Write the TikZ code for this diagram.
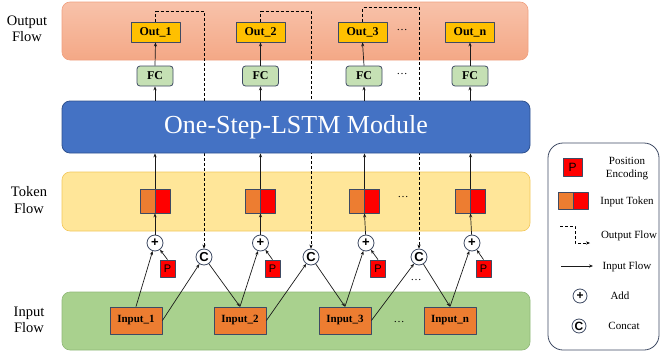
\documentclass[tikz,border=0pt]{standalone}
\usepackage{fontspec}
\setmainfont{Liberation Serif}
\newfontfamily\symfont{Liberation Sans}
\usetikzlibrary{arrows.meta}
\definecolor{boxline}{HTML}{3E4A63}
\definecolor{outyellow}{HTML}{FFC000}
\definecolor{fcgreen}{HTML}{C5E0B4}
\definecolor{inorange}{HTML}{ED7D31}
\definecolor{pred}{HTML}{FF0000}
\definecolor{lstmblue}{HTML}{4472C4}
\definecolor{lstmline}{HTML}{2F528F}
\definecolor{outbandtop}{HTML}{F8C2AA}
\definecolor{outbandbot}{HTML}{F4A886}
\definecolor{outbandline}{HTML}{F0A080}
\definecolor{tokband}{HTML}{FFE699}
\definecolor{tokbandline}{HTML}{F2C75C}
\definecolor{inband}{HTML}{A9D18E}
\definecolor{inbandline}{HTML}{90B878}
\definecolor{arrowgray}{HTML}{1A1A1A}
\begin{document}
\begin{tikzpicture}[x=1pt, y=-1pt, line join=round, >={Stealth[length=4pt,width=3.2pt]},
    band/.style={rounded corners=8pt, line width=0.6pt},
    outbox/.style={draw=boxline, fill=outyellow, line width=0.8pt, minimum width=49pt, minimum height=20pt, inner sep=0pt, font=\fontsize{12}{12}\selectfont\bfseries},
    fcbox/.style={draw=boxline, fill=fcgreen, line width=0.8pt, rounded corners=3pt, minimum width=36pt, minimum height=20pt, inner sep=0pt, font=\fontsize{12}{12}\selectfont\bfseries},
    inbox/.style={draw=boxline, fill=inorange, line width=0.8pt, minimum width=52pt, minimum height=27pt, inner sep=0pt, font=\fontsize{11}{11}\selectfont\bfseries},
    token/.style={draw=boxline, fill=inorange, line width=0.8pt, minimum width=30pt, minimum height=24pt, inner sep=0pt,
        path picture={\fill[pred] (path picture bounding box.north) rectangle (path picture bounding box.south east);
                      \draw[boxline, line width=0.8pt] (path picture bounding box.north) -- (path picture bounding box.south);}},
    pbox/.style={draw=boxline, fill=pred, line width=0.8pt, minimum width=15pt, minimum height=17pt, inner sep=0pt, font=\symfont\fontsize{11}{11}\selectfont},
    opcirc/.style={circle, draw=boxline, fill=white, line width=0.8pt, minimum size=16pt, inner sep=0pt, font=\symfont\fontsize{13}{13}\selectfont\bfseries},
    flowlabel/.style={align=center, font=\fontsize{14.5}{16.5}\selectfont},
    legtext/.style={align=center, font=\fontsize{11}{13}\selectfont},
    dotsnode/.style={font=\fontsize{11}{11}\selectfont},
    flow/.style={->, line width=0.7pt, draw=arrowgray},
    outflow/.style={->, densely dashed, line width=0.6pt}
    ]
    \useasboundingbox (0,0) rectangle (661,356);
    % bands
    \draw[band, draw=outbandline, top color=outbandtop, bottom color=outbandbot] (62,2) rectangle (528,60);
    \draw[band, draw=tokbandline, fill=tokband] (62,172) rectangle (530,231);
    \draw[band, draw=inbandline, fill=inband] (62,292) rectangle (530,350);
    \node[flowlabel] (lbout) at (27,29) {Output\\Flow};
    \node[flowlabel] (lbtok) at (29,200) {Token\\Flow};
    \node[flowlabel] (lbin) at (29,320) {Input\\Flow};
    % concat and output nodes
    \node[opcirc] (c1) at (204,257) {C};
    \node[opcirc] (c2) at (311,257) {C};
    \node[opcirc] (c3) at (419,257) {C};
    \node[outbox] (out1) at (155.5,32) {Out\_1};
    \node[outbox] (out2) at (260.5,32) {Out\_2};
    \node[outbox] (out3) at (362.5,32) {Out\_3};
    \node[outbox] (outn) at (470,32) {Out\_n};
    \node[dotsnode] (dout) at (402,30) {\dots};
    % output flow (behind the module)
    \draw[outflow] (out1.north) -- ++(0,-10) -| (c1.north);
    \draw[outflow] (out2.north) -- ++(0,-10) -| (c2.north);
    \draw[outflow] (out3.north) -- ++(0,-14) -| (c3.north);
    % module
    \node[draw=lstmline, fill=lstmblue, line width=0.8pt, rounded corners=8pt, minimum width=468pt, minimum height=52pt,
          text=white, font=\fontsize{26}{26}\selectfont] (lstm) at (296,127) {One-Step-LSTM Module};
    \node[fcbox] (fc1) at (155,76) {FC};
    \node[fcbox] (fc2) at (260.5,76) {FC};
    \node[fcbox] (fc3) at (364,76) {FC};
    \node[fcbox] (fcn) at (470,76) {FC};
    \node[dotsnode] (dfc) at (402,74) {\dots};
    % tokens
    \node[token] (tok1) at (155,201) {};
    \node[token] (tok2) at (260.5,201) {};
    \node[token] (tok3) at (364.5,201) {};
    \node[token] (tokn) at (470.5,201) {};
    \node[dotsnode] (dtok) at (403,197) {\dots};
    \node[opcirc] (add1) at (155,243) {+};
    \node[opcirc] (add2) at (260.5,243) {+};
    \node[opcirc] (add3) at (366,243) {+};
    \node[opcirc] (addn) at (472,243) {+};
    \node[pbox] (p1) at (167.5,268.5) {P};
    \node[pbox] (p2) at (272.5,268.5) {P};
    \node[pbox] (p3) at (378,268.5) {P};
    \node[pbox] (pn) at (483.5,268.5) {P};
    \node[dotsnode] (dc) at (416,280) {\dots};
    % inputs
    \node[inbox] (in1) at (136,320.5) {Input\_1};
    \node[inbox] (in2) at (240,320.5) {Input\_2};
    \node[inbox] (in3) at (345,320.5) {Input\_3};
    \node[inbox] (inn) at (450,320.5) {Input\_n};
    \node[dotsnode] (din) at (399,322) {\dots};
    % input flow
    \draw[flow] (in1.north) -- (add1);
    \draw[flow] (in1.east) -- (c1);
    \draw[flow] (c1) -- (in2.north);
    \draw[flow] (in2.north) -- (add2);
    \draw[flow] (in2.east) -- (c2);
    \draw[flow] (c2) -- (in3.north);
    \draw[flow] (in3.north) -- (add3);
    \draw[flow] (in3.east) -- (c3);
    \draw[flow] (c3) -- (inn.north);
    \draw[flow] (inn.north) -- (addn);
    \draw[flow] (p1.north) -- (add1);
    \draw[flow] (p2.north) -- (add2);
    \draw[flow] (p3.north) -- (add3);
    \draw[flow] (pn.north) -- (addn);
    \draw[flow] (add1) -- (tok1.south);
    \draw[flow] (add2) -- (tok2.south);
    \draw[flow] (add3) -- (tok3.south);
    \draw[flow] (addn) -- (tokn.south);
    \draw[flow] (tok1.north) -- (tok1.north |- lstm.south);
    \draw[flow] (tok2.north) -- (tok2.north |- lstm.south);
    \draw[flow] (tok3.north) -- (tok3.north |- lstm.south);
    \draw[flow] (tokn.north) -- (tokn.north |- lstm.south);
    \draw[flow] (fc1.south |- lstm.north) -- (fc1.south);
    \draw[flow] (fc2.south |- lstm.north) -- (fc2.south);
    \draw[flow] (fc3.south |- lstm.north) -- (fc3.south);
    \draw[flow] (fcn.south |- lstm.north) -- (fcn.south);
    \draw[flow] (fc1.north) -- (out1.south);
    \draw[flow] (fc2.north) -- (out2.south);
    \draw[flow] (fc3.north) -- (out3.south);
    \draw[flow] (fcn.north) -- (outn.south);
    % legend
    \draw[draw=boxline, line width=0.8pt, rounded corners=15pt] (548,143) rectangle (659,350);
    \node[pbox, minimum width=19pt, minimum height=18pt, font=\symfont\fontsize{12}{12}\selectfont] (lgp) at (572.5,167) {P};
    \node[legtext] (lgptext) at (627,168.5) {Position\\Encoding};
    \node[token, minimum width=30pt, minimum height=17pt] (lgtok) at (573,200.5) {};
    \node[legtext] (lgtoktext) at (627,202) {Input Token};
    \coordinate (lgo1) at (560,226);
    \coordinate (lgo2) at (590,243);
    \draw[outflow] (lgo1) -- ++(15,0) |- (lgo2);
    \node[legtext] (lgotext) at (629,236) {Output Flow};
    \coordinate (lgi1) at (561,266);
    \coordinate (lgi2) at (593,266);
    \draw[flow] (lgi1) -- (lgi2);
    \node[legtext] (lgitext) at (627,267) {Input Flow};
    \node[opcirc, minimum size=14pt, font=\symfont\fontsize{12}{12}\selectfont\bfseries] (lgadd) at (580,296) {+};
    \node[legtext] (lgaddtext) at (620,296) {Add};
    \node[opcirc, minimum size=14pt, font=\symfont\fontsize{12}{12}\selectfont\bfseries] (lgcat) at (579,326) {C};
    \node[legtext] (lgcattext) at (624,326) {Concat};
\end{tikzpicture}
\end{document}
